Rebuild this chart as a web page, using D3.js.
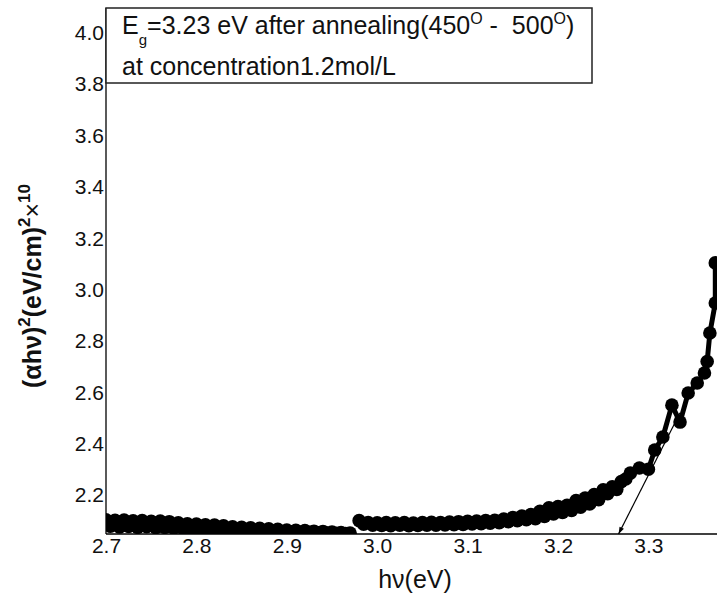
<!DOCTYPE html>
<html><head><meta charset="utf-8">
<script src="https://cdn.jsdelivr.net/npm/d3@7"></script>
<style>
body{margin:0;background:#fff}
svg{display:block}
text{font-family:Arial,"Liberation Sans",sans-serif;fill:#111;white-space:pre}
</style>
</head><body>
<svg id="chart" width="717" height="599"></svg>
<script>
// ---- data ----
const xTicks = [2.7, 2.8, 2.9, 3.0, 3.1, 3.2, 3.3];
const yTicks = [2.2, 2.4, 2.6, 2.8, 3.0, 3.2, 3.4, 3.6, 3.8, 4.0];
const xTickLabels = ["2.7","2.8","2.9","3.0","3.1","3.2","3.3"];
const yTickLabels = ["2.2","2.4","2.6","2.8","3.0","3.2","3.4","3.6","3.8","4.0"];

// low-energy segment (dense band)
const bandX = [2.700,2.705,2.710,2.715,2.720,2.725,2.730,2.735,2.740,2.745,2.750,2.755,2.760,2.765,2.770,2.775,2.780,2.785,2.790,2.795,
  2.800,2.805,2.810,2.815,2.820,2.825,2.830,2.835,2.840,2.845,2.850,2.855,2.860,2.865,2.870,2.875,2.880,2.885,2.890,2.895,
  2.900,2.905,2.910,2.915,2.920,2.925,2.930,2.935,2.940,2.945,2.950,2.955,2.960,2.965,2.970];
const bandY = [2.103,2.078,2.101,2.075,2.102,2.077,2.099,2.074,2.100,2.076,2.097,2.073,2.098,2.074,2.096,2.071,2.092,2.070,2.088,2.068,
  2.087,2.067,2.084,2.066,2.083,2.064,2.080,2.063,2.076,2.062,2.074,2.061,2.072,2.060,2.070,2.059,2.068,2.058,2.066,2.057,
  2.063,2.056,2.062,2.055,2.061,2.055,2.059,2.053,2.058,2.052,2.056,2.051,2.054,2.050,2.052];

// absorption edge segment
const edgeX = [2.980,2.985,2.990,2.995,3.000,3.005,3.010,3.015,3.020,3.025,3.030,3.035,3.040,3.045,3.050,3.055,3.060,3.065,3.070,3.075,
  3.080,3.085,3.090,3.095,3.100,3.105,3.110,3.115,3.120,3.125,3.130,3.135,3.140,3.145,3.150,3.155,3.160,3.165,3.170,3.175,
  3.180,3.185,3.190,3.195,3.200,3.205,3.210,3.215,3.220,3.225,3.230,3.235,3.240,3.245,3.250,3.255,3.260,3.265,3.270,3.275,
  3.280,3.290,3.300,3.307,3.316,3.326,3.335,3.344,3.354,3.362,3.365,3.368,3.374,3.374];
const edgeY = [2.100,2.086,2.093,2.082,2.092,2.081,2.093,2.080,2.092,2.082,2.093,2.080,2.091,2.081,2.093,2.082,2.094,2.082,2.093,2.083,
  2.095,2.084,2.096,2.085,2.097,2.087,2.098,2.088,2.100,2.090,2.101,2.092,2.106,2.096,2.112,2.100,2.118,2.104,2.124,2.108,
  2.136,2.116,2.150,2.126,2.155,2.132,2.160,2.140,2.178,2.152,2.188,2.165,2.202,2.182,2.220,2.205,2.232,2.222,2.252,2.262,
  2.285,2.305,2.300,2.375,2.426,2.550,2.484,2.597,2.636,2.675,2.720,2.831,2.948,3.104];

// tangent (extrapolation) arrow: [start, tip]
const arrowX = [3.335, 3.267];
const arrowY = [2.520, 2.048];

const legendLine2 = "at concentration1.2mol/L";

// ---- layout ----
const mLeft = 106, mBottom = 534, mTop = 8, mRight = 717;
const svg = d3.select("#chart");

const x = d3.scaleLinear().domain([2.7, 3.5]).range([mLeft, mLeft + 904 * 0.8]);
const y = d3.scaleLinear().domain([2.048, 4.097]).range([mBottom, mTop]);

const defs = svg.append("defs");
defs.append("clipPath").attr("id","plotclip")
  .append("rect").attr("x", mLeft).attr("y", mTop).attr("width", mRight - mLeft).attr("height", mBottom - mTop);

// data
const g = svg.append("g").attr("clip-path","url(#plotclip)");
const line = d3.line().x(d => x(d[0])).y(d => y(d[1]));
const band = bandX.map((v,i) => [v, bandY[i]]);
const edge = edgeX.map((v,i) => [v, edgeY[i]]);
[band, edge].forEach(seg => {
  g.append("path").datum(seg).attr("d", line)
    .attr("fill","none").attr("stroke","#000").attr("stroke-width",5).attr("stroke-linejoin","round");
  g.selectAll(null).data(seg).enter().append("circle")
    .attr("cx", d => x(d[0])).attr("cy", d => y(d[1])).attr("r", 6.8).attr("fill","#000");
});

// arrow
defs.append("marker").attr("id","arrowhead").attr("viewBox","0 0 10 10")
  .attr("refX",10).attr("refY",5).attr("markerWidth",10).attr("markerHeight",7)
  .attr("markerUnits","userSpaceOnUse").attr("orient","auto")
  .append("path").attr("d","M0,1.5 L10,5 L0,8.5 Z").attr("fill","#000");
svg.append("line")
  .attr("x1", x(arrowX[0])).attr("y1", y(arrowY[0]))
  .attr("x2", x(arrowX[1])).attr("y2", y(arrowY[1]))
  .attr("stroke","#000").attr("stroke-width",1.2).attr("marker-end","url(#arrowhead)");

// axes
const xAxis = d3.axisBottom(x).tickValues(xTicks).tickFormat((d,i) => xTickLabels[i]).tickSize(0).tickPadding(4);
const gx = svg.append("g").attr("transform", `translate(0,${mBottom})`).call(xAxis);
gx.select(".domain").remove();
gx.selectAll("text").attr("font-size", 21).attr("fill","#111").attr("font-family","Arial, 'Liberation Sans', sans-serif");
svg.append("line").attr("x1", mLeft).attr("x2", mRight).attr("y1", mBottom).attr("y2", mBottom)
  .attr("stroke","#000").attr("stroke-width",1.3);

const yAxis = d3.axisLeft(y).tickValues(yTicks).tickFormat((d,i) => yTickLabels[i]).tickSize(0).tickPadding(2);
const gy = svg.append("g").attr("transform", `translate(${mLeft},0)`).call(yAxis);
gy.select(".domain").remove();
gy.selectAll("text").attr("font-size", 21).attr("fill","#111").attr("font-family","Arial, 'Liberation Sans', sans-serif");
svg.append("line").attr("x1", mLeft).attr("x2", mLeft).attr("y1", mTop).attr("y2", mBottom)
  .attr("stroke","#000").attr("stroke-width",1.3);

// axis titles
svg.append("text").attr("x", 415).attr("y", 588).attr("text-anchor","middle")
  .attr("font-size", 25).text("h\u03BD(eV)");

const yt = svg.append("text").attr("transform","translate(41,286) rotate(-90)")
  .attr("text-anchor","middle").attr("font-size", 25).attr("font-weight","bold");
yt.append("tspan").text("(\u03B1h\u03BD)");
yt.append("tspan").attr("font-size",17).attr("dy",-11).text("2");
yt.append("tspan").attr("dy",11).text("(eV/cm)");
yt.append("tspan").attr("font-size",17).attr("dy",-11).text("2");
yt.append("tspan").attr("dy",11).attr("font-weight","normal").text("\u00D7");
yt.append("tspan").attr("font-size",17).attr("dy",-11).text("10");

// legend box
svg.append("rect").attr("x", mLeft).attr("y", mTop).attr("width", 592 - mLeft).attr("height", 83 - mTop)
  .attr("fill","#fff").attr("stroke","#222").attr("stroke-width",1.5);
const l1 = svg.append("text").attr("x", 122).attr("y", 34).attr("font-size", 25);
l1.append("tspan").text("E");
l1.append("tspan").attr("font-size",15).attr("dy",11).text("g");
l1.append("tspan").attr("dy",-11).text("=3.23 eV after annealing(450");
l1.append("tspan").attr("font-size",16).attr("dy",-10).text("O");
l1.append("tspan").attr("dy",10).text(" -  500");
l1.append("tspan").attr("font-size",16).attr("dy",-10).text("O");
l1.append("tspan").attr("dy",10).text(")");
svg.append("text").attr("x", 122).attr("y", 75).attr("font-size", 25).text(legendLine2);
</script>
</body></html>
